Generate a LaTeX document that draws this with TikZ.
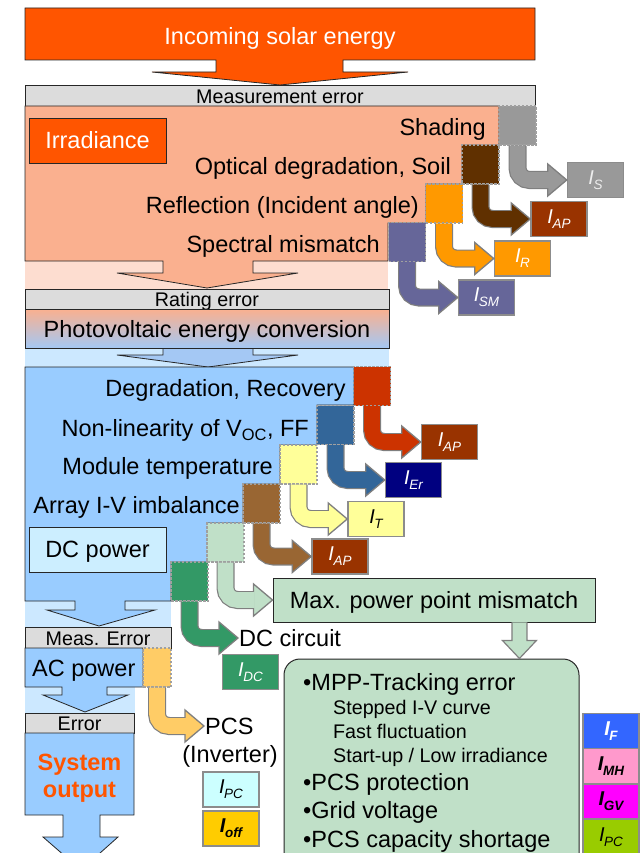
\documentclass[tikz,border=0pt]{standalone}
\usepackage{fontspec}
\setmainfont{Liberation Sans}
\usetikzlibrary{calc}
\definecolor{orR}{HTML}{FF5500}
\definecolor{salm}{HTML}{FAB08F}
\definecolor{salmL}{HTML}{FDDDD0}
\definecolor{grayBar}{HTML}{DCDCDC}
\definecolor{blueM}{HTML}{99CCFF}
\definecolor{blueL}{HTML}{CCE8FF}
\definecolor{dcbox}{HTML}{CCEEFF}
\definecolor{pvTop}{HTML}{FAB08F}
\definecolor{pvBot}{HTML}{A4C8F4}
\definecolor{cShade}{HTML}{999999}
\definecolor{cOpt}{HTML}{603000}
\definecolor{cRefl}{HTML}{FF9900}
\definecolor{cSpec}{HTML}{666699}
\definecolor{cDeg}{HTML}{CC3300}
\definecolor{cNon}{HTML}{336699}
\definecolor{cTemp}{HTML}{FFFF99}
\definecolor{cArr}{HTML}{996633}
\definecolor{cLg}{HTML}{C0E0C8}
\definecolor{cDk}{HTML}{339966}
\definecolor{cAc}{HTML}{FFCC66}
\definecolor{cAP}{HTML}{993300}
\definecolor{cEr}{HTML}{000080}
\definecolor{cPC}{HTML}{CCFFFF}
\definecolor{cOff}{HTML}{FFCC00}
\definecolor{cF}{HTML}{3366FF}
\definecolor{cMH}{HTML}{FF99CC}
\definecolor{cGV}{HTML}{FF00FF}
\definecolor{cPCg}{HTML}{99CC00}
\definecolor{sqB}{HTML}{A0A0A0}
\definecolor{iB}{HTML}{8C8C8C}
\definecolor{aG}{HTML}{7F7F7F}
\newcommand\Isub[1]{{\fontsize{20}{20}\selectfont\itshape I\kern-0.5pt\raisebox{-5pt}{\fontsize{13.5}{14}\selectfont #1}}}
\newcommand\Isubb[1]{{\fontsize{20}{20}\selectfont\bfseries\itshape I\kern-0.5pt\raisebox{-5pt}{\fontsize{13.5}{14}\selectfont #1}}}
\newcommand\bentarrow[3]{%
  \draw[line width=18, draw=aG, rounded corners=12] (#2.south) -- (#2.south |- #3.west) -- ([xshift=-17]#3.west);
  \filldraw[fill=#1, draw=aG, line width=1.3, line join=miter] ([xshift=-19,yshift=16]#3.west) -- (#3.west) -- ([xshift=-19,yshift=-16]#3.west) -- cycle;
  \draw[line width=15.6, draw=#1, rounded corners=12] (#2.south) -- (#2.south |- #3.west) -- ([xshift=-18]#3.west);
}
\tikzset{
  reg/.style={draw=black!85, line width=0.8},
  bar/.style={draw=black!85, line width=0.8, fill=grayBar},
  sq/.style={draw=sqB, dash pattern=on 2.5pt off 1.5pt, line width=1.3, minimum width=37, minimum height=39, inner sep=0},
  ibox/.style={draw=iB, line width=1.5, minimum width=56, minimum height=35, inner sep=0, text=white},
  lbl/.style={inner sep=0, font=\fontsize{23.5}{28}\selectfont, text height=16.9pt, text depth=0pt},
  sml/.style={inner sep=0, font=\fontsize{19.7}{24}\selectfont, text height=14.2pt, text depth=0pt},
}
\begin{document}
\begin{tikzpicture}[x=1pt,y=-1pt]
\useasboundingbox (0,0) rectangle (641,853);
\clip (0,0) rectangle (641,853);
% ---------- incoming solar energy ----------
\path[reg, fill=orR] (25,8) -- (535,8) -- (535,60) -- (343,60) -- (343,72) -- (408,72) -- (280,85) -- (152,72) -- (216,72) -- (216,60) -- (25,60) -- cycle;
\node[lbl, text=white] (inc) at (280,36) {Incoming solar energy};
\node[bar, minimum width=510, minimum height=21, inner sep=0] (meas) at (280,95.5) {};
\node[sml] (meast) at (280,96) {Measurement error};
% ---------- irradiance region ----------
\fill[salmL] (25,261) rectangle (388,290);
\path[reg, fill=salm] (25,106) -- (499,106) -- (499,145) -- (462,145) -- (462,184) -- (426,184) -- (426,223) -- (388,223) -- (388,261) -- (253,261) -- (253,273) -- (298,273) -- (207,288) -- (117,273) -- (163,273) -- (163,261) -- (25,261) -- cycle;
\node[draw=black!85, line width=0.8, fill=orR, minimum width=137, minimum height=45, lbl, text=white] (irr) at (97.5,140.5) {Irradiance};
\node[bar, minimum width=364, minimum height=20, inner sep=0] (rat) at (207,299) {};
\node[sml] (ratt) at (207,299.5) {Rating error};
% ---------- PV conversion ----------
\fill[blueL] (25,348) rectangle (389,367);
\path[reg, fill=pvBot] (163,348) -- (163,355) -- (117,355) -- (208,367) -- (298,355) -- (253,355) -- (253,348);
\path[reg, top color=pvTop, bottom color=pvBot] (25,309) rectangle (389,348);
\node[lbl] (pv) at (207,329.5) {Photovoltaic energy conversion};
% ---------- DC region ----------
\fill[blueL] (25,601) rectangle (171,627);
\path[reg, fill=blueM] (25,367) -- (354,367) -- (354,405) -- (317,405) -- (317,445) -- (280,445) -- (280,484) -- (243,484) -- (243,523) -- (208,523) -- (208,562) -- (171,562) -- (171,601) -- (125,601) -- (125,610) -- (155,610) -- (99,626) -- (47,610) -- (75,610) -- (75,601) -- (25,601) -- cycle;
\node[draw=black!85, line width=0.8, fill=dcbox, minimum width=137, minimum height=45, lbl] (dcp) at (97.5,549.5) {DC power};
% ---------- AC part ----------
\node[bar, minimum width=146, minimum height=21, inner sep=0] (meas2) at (98,637.5) {};
\node[sml] (meas2t) at (98,638) {Meas. Error};
\fill[blueL] (25,687) rectangle (135,713);
\path[reg, fill=blueM] (25,648) -- (143,648) -- (143,687) -- (107,687) -- (107,695) -- (128,695) -- (85,712) -- (43,695) -- (62,695) -- (62,687) -- (25,687) -- cycle;
\node[lbl, anchor=west] (acp) at (32,668) {AC power};
\node[bar, minimum width=109, minimum height=20, inner sep=0] (err) at (79.5,723) {};
\node[sml] (errt) at (79.5,723.5) {Error};
\path[reg, fill=blueM] (25,733) -- (134,733) -- (134,815) -- (100,815) -- (100,837) -- (118,837) -- (81,870) -- (43,837) -- (63,837) -- (63,815) -- (25,815) -- cycle;
\node[inner sep=0, anchor=base, font=\fontsize{23.5}{28}\selectfont\bfseries, text=orR] (sys1) at (79.5,770) {System};
\node[inner sep=0, anchor=base, font=\fontsize{23.5}{28}\selectfont\bfseries, text=orR] (sys2) at (79.5,797) {output};
% ---------- step squares ----------
\node[sq, fill=cShade] (sh) at (517.5,125.5) {};
\node[sq, fill=cOpt] (op) at (480.5,164.5) {};
\node[sq, fill=cRefl] (rf) at (444,203.5) {};
\node[sq, fill=cSpec] (sp) at (407,242) {};
\node[sq, fill=cDeg] (dg) at (372,386) {};
\node[sq, fill=cNon] (nl) at (335.5,425) {};
\node[sq, fill=cTemp] (mt) at (298.5,464.5) {};
\node[sq, fill=cArr] (ar) at (261.5,503.5) {};
\node[sq, fill=cLg] (lg) at (225.5,542.5) {};
\node[sq, fill=cDk] (dk) at (189.5,581.5) {};
\node[sq, fill=cAc, minimum width=28] (ac) at (157,667.5) {};
% ---------- factor labels ----------
\node[lbl, anchor=east] (tsh) at (486,127) {Shading};
\node[lbl, anchor=east] (top) at (451,166) {Optical degradation, Soil};
\node[lbl, anchor=east] (trf) at (419,205) {Reflection (Incident angle)};
\node[lbl, anchor=east] (tsp) at (380,244) {Spectral mismatch};
\node[lbl, anchor=east] (tdg) at (346,388) {Degradation, Recovery};
\node[lbl, anchor=east] (tnl) at (309,428) {Non-linearity of V\textsubscript{OC}, FF};
\node[lbl, anchor=east] (tmt) at (273,466) {Module temperature};
\node[lbl, anchor=east] (tar) at (240,505) {Array I-V imbalance};
% ---------- target boxes ----------
\node[ibox, fill=cShade, text=black!7] (iS) at (595.5,180) {\Isub{S}};
\node[ibox, fill=cAP] (iAP1) at (559,219) {\Isub{AP}};
\node[ibox, fill=cRefl] (iR) at (522.5,258.5) {\Isub{R}};
\node[ibox, fill=cSpec] (iSM) at (486.5,297.5) {\Isub{SM}};
\node[ibox, fill=cAP] (iAP2) at (449.5,442) {\Isub{AP}};
\node[ibox, fill=cEr] (iEr) at (413.5,480) {\Isub{Er}};
\node[ibox, fill=cTemp, text=black] (iT) at (376,519) {\Isub{T}};
\node[ibox, fill=cAP] (iAP3) at (340,556.5) {\Isub{AP}};
\node[draw=black!85, line width=0.9, fill=cLg, minimum width=322, minimum height=44, lbl] (mpp) at (434,600) {Max. power point mismatch};
\node[lbl, anchor=west, inner sep=1] (dcc) at (238,638) {DC circuit};
\node[ibox, fill=cDk] (iDC) at (250.5,672) {\Isub{DC}};
\node[lbl, anchor=west, inner sep=1] (pcs) at (204,726) {PCS};
\node[lbl] (inv) at (230,754) {(Inverter)};
\node[ibox, fill=cPC, text=black] (iPC) at (231,789.5) {\Isub{PC}};
\node[ibox, fill=cOff, text=black] (ioff) at (231,828.5) {\Isubb{off}};
% ---------- bent arrows ----------
\bentarrow{cShade}{sh}{iS}
\bentarrow{cOpt}{op}{iAP1}
\bentarrow{cRefl}{rf}{iR}
\bentarrow{cSpec}{sp}{iSM}
\bentarrow{cDeg}{dg}{iAP2}
\bentarrow{cNon}{nl}{iEr}
\bentarrow{cTemp}{mt}{iT}
\bentarrow{cArr}{ar}{iAP3}
\bentarrow{cLg}{lg}{mpp}
\bentarrow{cDk}{dk}{dcc}
\bentarrow{cAc}{ac}{pcs}
% ---------- MPP details ----------
\node[draw=black!85, line width=1, fill=cLg, rounded corners=16, minimum width=295, minimum height=211, inner sep=0] (rb) at (431.5,764.5) {};
\coordinate (ma) at ([xshift=-76]mpp.south east);
\coordinate (mb) at (ma |- rb.north);
\path[draw=aG, line width=1.2, fill=cLg] ($(ma)+(-7.5,0)$) -- ($(ma)+(-7.5,18)$) -- ($(ma)+(-17,18)$) -- (mb) -- ($(ma)+(17,18)$) -- ($(ma)+(7.5,18)$) -- ($(ma)+(7.5,0)$);
\node[lbl, anchor=west] (l1) at (303,682) {•MPP-Tracking error};
\node[sml, anchor=west] (l2) at (333,707) {Stepped I-V curve};
\node[sml, anchor=west] (l3) at (333,731) {Fast fluctuation};
\node[sml, anchor=west] (l4) at (333,755) {Start-up / Low irradiance};
\node[lbl, anchor=west] (l5) at (303,782) {•PCS protection};
\node[lbl, anchor=west] (l6) at (303,810) {•Grid voltage};
\node[lbl, anchor=west] (l7) at (303,839) {•PCS capacity shortage};
\node[ibox, fill=cF] (iF) at (611,731) {\Isubb{F}};
\node[ibox, fill=cMH, text=black] (iMH) at (611,766) {\Isubb{MH}};
\node[ibox, fill=cGV, text=black] (iGV) at (611,801.5) {\Isubb{GV}};
\node[ibox, fill=cPCg, text=black] (iPC2) at (611,837) {\Isub{PC}};
\end{tikzpicture}
\end{document}
